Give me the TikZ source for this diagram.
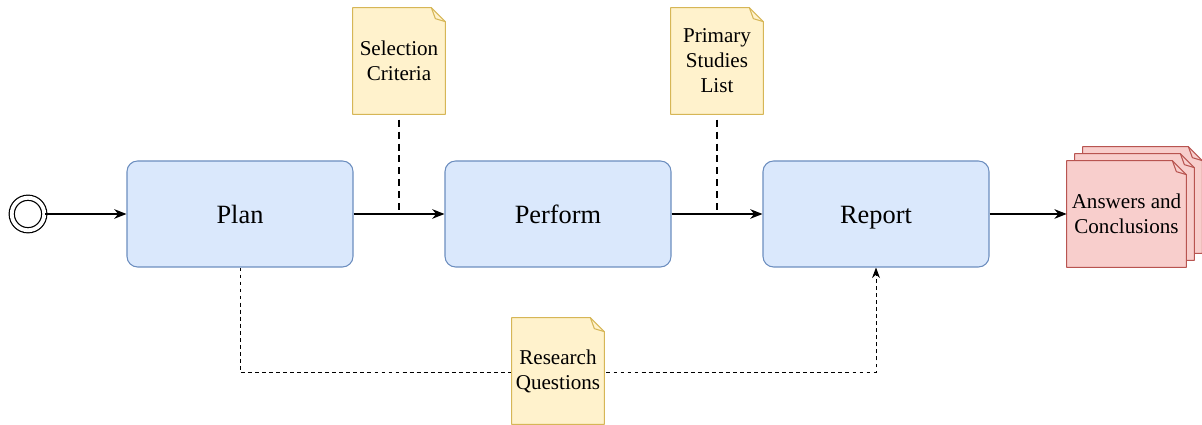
\documentclass[tikz,border=0pt]{standalone}
\usepackage{fontspec}
\setmainfont{Liberation Serif}
\definecolor{boxBlue}{HTML}{DAE8FC}
\definecolor{boxBlueLine}{HTML}{6C8EBF}
\definecolor{noteYellow}{HTML}{FFF2CC}
\definecolor{noteYellowLine}{HTML}{D6B656}
\definecolor{outRed}{HTML}{F8CECC}
\definecolor{outRedLine}{HTML}{B85450}
\usepackage{tikz}
\usetikzlibrary{positioning, calc, arrows.meta, backgrounds}

% sheet with a folded corner: node, fill, line, offset
\newcommand{\dogear}[4]{%
  \filldraw[fill=#2, draw=#3, line width=0.6pt, line join=round]
    ($(#1.north west)+(#4)$) -- ($(#1.north east)+(#4)+(-0.28,0)$)
    -- ($(#1.north east)+(#4)+(0,-0.28)$) -- ($(#1.south east)+(#4)$)
    -- ($(#1.south west)+(#4)$) -- cycle;
  \draw[draw=#3, line width=0.6pt, line join=round]
    ($(#1.north east)+(#4)+(-0.28,0)$) -- ($(#1.north east)+(#4)+(-0.2,-0.22)$)
    -- ($(#1.north east)+(#4)+(0,-0.28)$);
}

\begin{document}
\begin{tikzpicture}[
    stepbox/.style={rectangle, draw=boxBlueLine, line width=0.6pt, fill=boxBlue,
                    minimum width=4.52cm, minimum height=2.12cm, rounded corners=6pt,
                    text height=11pt, text depth=0pt,
                    font=\fontsize{15}{18}\selectfont},
    notebox/.style={rectangle, minimum width=1.84cm, minimum height=2.12cm,
                    inner sep=0pt, align=center, font=\fontsize{12}{14.2}\selectfont},
    startev/.style={circle, draw, line width=0.7pt, double, double distance=2.2pt,
                    minimum size=18.5pt, inner sep=0pt},
    flow/.style={-{Stealth[length=7pt,width=5.5pt]}, line width=0.7pt},
    assoc/.style={line width=1.4pt, dash pattern=on 4pt off 2.8pt},
    dataflow/.style={-{Stealth[length=6pt,width=4.5pt]}, line width=0.55pt,
                     dash pattern=on 2.2pt off 1.8pt},
  ]
    \useasboundingbox (0,0) rectangle (24.04,8.5);

    \node[startev] (start) at (0.56,4.22) {};

    \node[stepbox] (plan) at (4.80,4.22) {Plan};
    \node[stepbox] (perform) at (11.16,4.22) {Perform};
    \node[stepbox] (report) at (17.52,4.22) {Report};

    \node[notebox] (selcrit) at (7.98,7.28) {Selection\\Criteria};
    \node[notebox] (primlist) at (14.34,7.28) {Primary\\Studies\\List};
    \node[notebox] (resq) at (11.16,1.08) {Research\\Questions};
    \node[notebox, minimum width=2.38cm] (answers) at (22.53,4.22) {Answers and\\Conclusions};

    \coordinate (rqdown) at (4.80,1.06);
    \coordinate (rqup) at (17.52,1.06);

    \begin{scope}[on background layer]
      \draw[dataflow] (plan.south) -- (rqdown) -- (rqup) -- (report.south);
      \dogear{selcrit}{noteYellow}{noteYellowLine}{0,0}
      \dogear{primlist}{noteYellow}{noteYellowLine}{0,0}
      \dogear{resq}{noteYellow}{noteYellowLine}{0,0}
      \foreach \d/\e in {0.32/0.28, 0.16/0.14, 0/0}{
        \dogear{answers}{outRed}{outRedLine}{\d,\e}
      }
    \end{scope}

    \coordinate (scjoin) at (selcrit.south |- plan.east);
    \coordinate (pljoin) at (primlist.south |- perform.east);

    \draw[flow] (start) -- (plan);
    \draw[flow] (plan) -- (perform);
    \draw[flow] (perform) -- (report);
    \draw[flow] (report) -- (answers);

    \draw[assoc] ([yshift=-3pt]selcrit.south) -- (scjoin);
    \draw[assoc] ([yshift=-3pt]primlist.south) -- (pljoin);
  \end{tikzpicture}
\end{document}
